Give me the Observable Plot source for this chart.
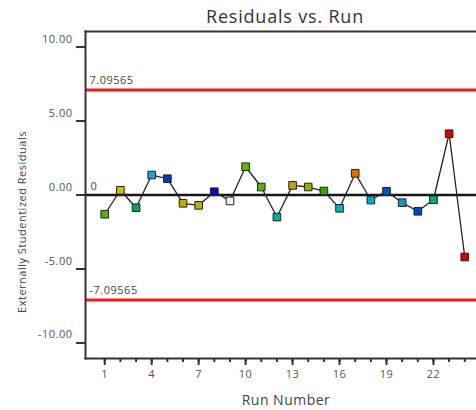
<!DOCTYPE html>
<html>
<head>
<meta charset="utf-8">
<script src="https://cdn.jsdelivr.net/npm/d3@7"></script>
<script src="https://cdn.jsdelivr.net/npm/@observablehq/plot@0.6"></script>
<style>
  body { margin: 0; background: #fff; font-family: "Open Sans", sans-serif; }
  #title { width: 382px; height: 26px; line-height: 32px; padding-left: 94px;
           font-size: 18px; letter-spacing: 0.8px; color: #333; text-align: center; }
</style>
</head>
<body>
<div id="title">Residuals vs. Run</div>
<div id="chart"></div>
<script>
// Run order and externally studentized residuals
const runs = [1, 2, 3, 4, 5, 6, 7, 8, 9, 10, 11, 12, 13, 14, 15, 16, 17, 18, 19, 20, 21, 22, 23, 24];
const residuals = [-1.30, 0.32, -0.86, 1.35, 1.10, -0.56, -0.70, 0.22, -0.40, 1.91, 0.54, -1.49,
                   0.65, 0.54, 0.27, -0.90, 1.46, -0.34, 0.25, -0.52, -1.10, -0.32, 4.14, -4.19];
// Point colours (design-point colouring)
const pointColors = ["#58b000", "#c8c400", "#00a840", "#20a0d0", "#0038c0", "#c0b000",
                     "#c0b000", "#0010c0", "#f2f2f2", "#60b800", "#58b000", "#00b0a0",
                     "#c8a000", "#88b000", "#38a800", "#00b8a8", "#e07000", "#00b0d0",
                     "#0050c8", "#1890d8", "#0048c8", "#00b070", "#d80000", "#d80000"];
// Control limits
const limits = [7.09565, -7.09565];
// Axis ticks
const xTicks = [1, 4, 7, 10, 13, 16, 19, 22];
const yTicks = [-10, -5, 0, 5, 10];

const data = runs.map((run, i) => ({run, residual: residuals[i], color: pointColors[i]}));

const chart = Plot.plot({
  width: 476,
  height: 384,
  marginLeft: 85,
  marginRight: 0,
  marginTop: 5,
  marginBottom: 52,
  style: {fontFamily: "Open Sans, sans-serif", fontSize: "11px", letterSpacing: "0.5px",
          color: "#333", background: "#fff", overflow: "visible"},
  x: {domain: [-0.23, 24.75]},
  y: {domain: [-11.05, 11.05]},
  color: {type: "identity"},
  marks: [
    // limit lines and their labels
    Plot.ruleY(limits, {stroke: "#f01a1a", strokeWidth: 3}),
    Plot.text(limits, {y: d => d, frameAnchor: "left", text: d => String(d), textAnchor: "start",
                       dx: 4, dy: -10, fill: "#444", fontSize: 11}),
    // zero reference line
    Plot.ruleY([0], {stroke: "#151515", strokeWidth: 2.6}),
    Plot.text([0], {y: d => d, frameAnchor: "left", text: d => String(d), textAnchor: "start",
                    dx: 5, dy: -9, fill: "#444", fontSize: 11}),
    // frame (left, top, bottom)
    Plot.frame({anchor: "left", stroke: "#333", strokeWidth: 2}),
    Plot.frame({anchor: "top", stroke: "#333", strokeWidth: 2}),
    Plot.frame({anchor: "bottom", stroke: "#333", strokeWidth: 2}),
    // y axis: ticks, then labels set above each tick
    Plot.axisY({ticks: yTicks, tickSize: 9, fill: "none", stroke: "#333", strokeWidth: 2, label: null}),
    Plot.axisY({ticks: yTicks, tickSize: 0, tickPadding: 13, dy: -8, tickFormat: d => d.toFixed(2),
                fill: "#555", fontSize: 11, label: null}),
    // x axis: minor ticks for every run, major ticks with labels
    Plot.axisX({ticks: runs, tickSize: 4, fill: "none", stroke: "#333", strokeWidth: 2, label: null}),
    Plot.axisX({ticks: xTicks, tickSize: 7, tickPadding: 5, tickFormat: d => String(d),
                stroke: "#333", strokeWidth: 2, fill: "#555", fontSize: 11, label: null}),
    // axis titles
    Plot.text(["Run Number"], {frameAnchor: "bottom", text: d => d, lineAnchor: "middle",
                dx: 5, dy: 42, fontSize: 14, letterSpacing: "1.3px", fill: "#444"}),
    Plot.text(["Externally Studentized Residuals"], {frameAnchor: "left", text: d => d, rotate: -90,
                textAnchor: "middle", dx: -63, dy: 27, fontSize: 11, fill: "#444"}),
    // residual trace
    Plot.line(data, {x: "run", y: "residual", stroke: "#222", strokeWidth: 1.3}),
    Plot.dot(data, {x: "run", y: "residual", symbol: "square", r: 4.3, fill: "color", stroke: "#222", strokeWidth: 1})
  ]
});
document.getElementById("chart").append(chart);
</script>
</body>
</html>
